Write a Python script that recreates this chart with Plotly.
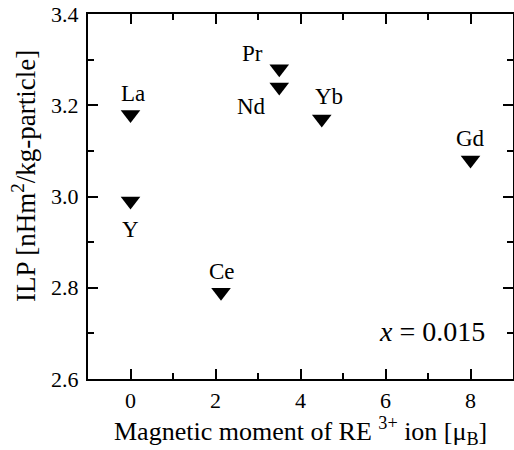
import plotly.graph_objects as go

# ---- data ----
elements = ["La", "Y", "Ce", "Pr", "Nd", "Yb", "Gd"]
moment = [0, 0, 2.13, 3.5, 3.5, 4.5, 8]
ilp = [3.18, 2.99, 2.79, 3.28, 3.24, 3.17, 3.08]
x_ticks = [0, 2, 4, 6, 8]
y_ticks = [2.6, 2.8, 3.0, 3.2, 3.4]

FONT = "Liberation Serif, Times New Roman, Times, serif"
W, H = 514, 450
L, R, T, B = 88, 1, 14, 71

# label offsets (pixels) relative to each marker
label_offsets = {
    "La": (2, 21), "Y": (0, -28), "Ce": (1, 21), "Pr": (-27, 15),
    "Nd": (-28, -19), "Yb": (7, 22), "Gd": (0, 22),
}

fig = go.Figure()
fig.add_trace(go.Scatter(
    x=moment, y=ilp, mode="markers",
    marker=dict(symbol="triangle-down", size=17, color="black", line=dict(width=0)),
    showlegend=False, hoverinfo="skip",
))
# invisible trace on mirrored axes so they are drawn
fig.add_trace(go.Scatter(x=[None], y=[None], xaxis="x2", yaxis="y2",
                         showlegend=False, hoverinfo="skip"))

annotations = []
for el, xv, yv in zip(elements, moment, ilp):
    dx, dy = label_offsets[el]
    annotations.append(dict(
        x=xv, y=yv, xref="x", yref="y", text=el, showarrow=False,
        xshift=dx, yshift=dy, xanchor="center", yanchor="middle",
        font=dict(family=FONT, size=23, color="black"),
    ))

pw, ph = W - L - R, H - T - B
def px(xp):
    return (xp - L) / pw
def py(yp):
    return (H - B - yp) / ph

annotations.append(dict(
    x=px(487), y=py(331), xref="paper", yref="paper",
    text="<i>x</i> = 0.015", showarrow=False, xanchor="right", yanchor="middle",
    font=dict(family=FONT, size=28, color="black"),
))
annotations.append(dict(
    x=px(300), y=py(431), xref="paper", yref="paper",
    text="Magnetic moment of RE <sup>3+</sup> ion [μ<sub>B</sub>]",
    showarrow=False, xanchor="center", yanchor="middle",
    font=dict(family=FONT, size=26, color="black"),
))
annotations.append(dict(
    x=px(24), y=py(176), xref="paper", yref="paper",
    text="ILP [nHm<sup>2</sup>/kg-particle]", textangle=-90,
    showarrow=False, xanchor="center", yanchor="middle",
    font=dict(family=FONT, size=27, color="black"),
))

axis_common = dict(
    showline=True, linecolor="black", linewidth=2,
    ticks="inside", ticklen=10, tickwidth=2, tickcolor="black",
    showgrid=False, zeroline=False,
    tickfont=dict(family=FONT, size=22, color="black"),
)
xminor = dict(dtick=1, tick0=0, ticks="inside", ticklen=6, tickwidth=2, tickcolor="black")
yminor = dict(dtick=0.1, tick0=2.6, ticks="inside", ticklen=6, tickwidth=2, tickcolor="black")

fig.update_layout(
    xaxis=dict(range=[-1, 9], tickvals=x_ticks, ticktext=[str(v) for v in x_ticks],
               minor=xminor, ticklabelstandoff=1, **axis_common),
    yaxis=dict(range=[2.6, 3.4], tickvals=y_ticks, ticktext=[f"{v:.1f}" for v in y_ticks],
               minor=yminor, ticklabelstandoff=3, **axis_common),
    xaxis2=dict(range=[-1, 9], tickvals=x_ticks, showticklabels=False, overlaying="x",
                side="top", anchor="y", minor=xminor, **axis_common),
    yaxis2=dict(range=[2.6, 3.4], tickvals=y_ticks, showticklabels=False, overlaying="y",
                side="right", anchor="x", minor=yminor, **axis_common),
    width=W, height=H, margin=dict(l=L, r=R, t=T, b=B),
    paper_bgcolor="white", plot_bgcolor="white",
    annotations=annotations,
)

fig.write_html("out.html")
